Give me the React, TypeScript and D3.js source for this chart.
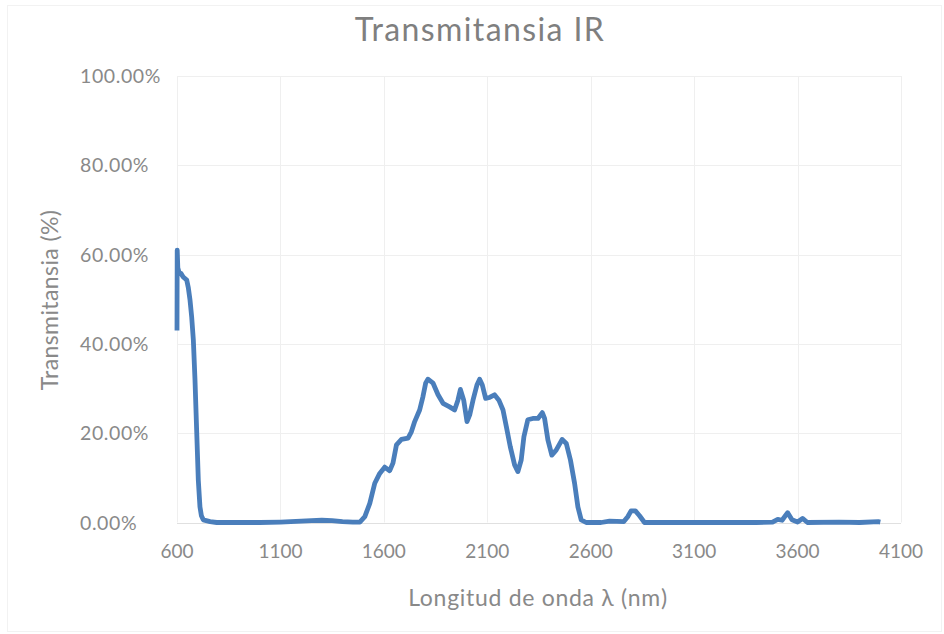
import React, { useEffect, useRef } from "react";
import * as d3 from "d3";

const wavelengths: number[] = [
  600, 601, 604, 610, 619, 630, 647, 655, 663, 671, 679, 687, 695, 703, 711, 718, 727, 760, 792, 900,
  1000, 1100, 1150, 1200, 1250, 1300, 1350, 1400, 1450, 1484, 1508, 1532, 1556, 1580, 1604, 1628, 1644,
  1661, 1685, 1717, 1733, 1749, 1773, 1789, 1802, 1813, 1838, 1862, 1886, 1918, 1942, 1958, 1970, 1986,
  2002, 2015, 2031, 2050, 2063, 2076, 2092, 2111, 2135, 2156, 2176, 2192, 2211, 2232, 2248, 2264, 2277,
  2296, 2320, 2345, 2366, 2377, 2393, 2412, 2433, 2462, 2482, 2502, 2522, 2538, 2554, 2578, 2650, 2691,
  2760, 2779, 2795, 2816, 2836, 2860, 3000, 3200, 3400, 3479, 3504, 3525, 3552, 3573, 3600, 3624, 3648,
  3800, 3900, 3990, 4000,
];

const transmittance: number[] = [
  43, 61, 57, 56, 55.8, 55, 54.3, 52.5, 49.8, 46, 40.9, 31.9, 20.7, 9.5, 3.5, 1.5, 0.6, 0.2, 0, 0,
  0, 0.1, 0.2, 0.3, 0.4, 0.5, 0.4, 0.2, 0.1, 0.1, 1.3, 4.3, 8.8, 11, 12.4, 11.6, 13.3,
  17.4, 18.6, 18.9, 20.3, 22.6, 25.2, 28.2, 31.2, 32.1, 31.2, 28.6, 26.7, 25.9, 25.2, 27.4, 29.8, 27.4,
  22.6, 24.1, 27.4, 30.8, 32.1, 30.8, 27.8, 28, 28.6, 27.4, 25.2, 21.5, 17, 12.9, 11.4, 14, 19.2,
  23, 23.3, 23.3, 24.6, 23.3, 18.5, 15.1, 16.2, 18.6, 17.7, 14, 8.8, 3.5, 0.6, 0, 0, 0.3,
  0.2, 1.3, 2.6, 2.6, 1.5, 0, 0, 0, 0, 0.1, 0.7, 0.5, 2.2, 0.6, 0.1, 0.9, 0,
  0.1, 0, 0.2, 0.1,
];

const xTicks: number[] = [600, 1100, 1600, 2100, 2600, 3100, 3600, 4100];
const yTicks: number[] = [0, 0.2, 0.4, 0.6, 0.8, 1.0];

const title = "Transmitansia IR";
const xTitle = "Longitud de onda λ (nm)";
const yTitle = "Transmitansia (%)";

export default function App() {
  const ref = useRef<SVGSVGElement | null>(null);

  useEffect(() => {
    const svg = d3.select(ref.current);
    svg.selectAll("*").remove();
    const W = 944, H = 634;
    const font = "Lato, 'Open Sans', sans-serif";
    const gray = "#898989";

    const x = d3.scaleLinear().domain([600, 4100]).range([177, 901]);
    const y = d3.scaleLinear().domain([0, 1]).range([522.5, 76]);

    svg.append("rect").attr("x", 0).attr("y", 0).attr("width", W).attr("height", H).attr("fill", "#fff");
    svg.append("rect").attr("x", 7.5).attr("y", 5.5).attr("width", W - 10).attr("height", H - 8)
      .attr("fill", "none").attr("stroke", "#f2f2f2").attr("stroke-width", 1);

    // grid
    const g = svg.append("g");
    g.selectAll("line.h").data(yTicks.filter((t) => t > 0)).enter().append("line")
      .attr("x1", x(600)).attr("x2", x(4100))
      .attr("y1", (d) => Math.round(y(d)) + 0.5).attr("y2", (d) => Math.round(y(d)) + 0.5)
      .attr("stroke", "#efefef").attr("stroke-width", 1);
    g.selectAll("line.v").data(xTicks).enter().append("line")
      .attr("x1", (d) => Math.round(x(d)) + 0.5).attr("x2", (d) => Math.round(x(d)) + 0.5)
      .attr("y1", y(1)).attr("y2", y(0))
      .attr("stroke", "#efefef").attr("stroke-width", 1);
    // x axis line
    g.append("line").attr("x1", x(600)).attr("x2", x(4100))
      .attr("y1", Math.round(y(0)) + 0.5).attr("y2", Math.round(y(0)) + 0.5)
      .attr("stroke", "#e0e0e0").attr("stroke-width", 1);

    // y tick labels (left aligned)
    svg.selectAll("text.yt").data(yTicks).enter().append("text")
      .attr("x", 80).attr("y", (d) => y(d) + 7)
      .attr("text-anchor", "start")
      .attr("font-family", font).attr("font-size", 19.5).attr("letter-spacing", 0.6).attr("fill", gray)
      .text((d) => d3.format(".2%")(d));

    // x tick labels
    svg.selectAll("text.xt").data(xTicks).enter().append("text")
      .attr("x", (d) => x(d)).attr("y", 558)
      .attr("text-anchor", "middle")
      .attr("font-family", font).attr("font-size", 19).attr("fill", gray)
      .text((d) => String(d));

    // line
    const pts = wavelengths.map((w, i) => [w, transmittance[i] / 100] as [number, number]);
    const line = d3.line<[number, number]>().x((d) => x(d[0])).y((d) => y(d[1]));
    svg.append("path").attr("d", line(pts) || "")
      .attr("fill", "none").attr("stroke", "#4a7ebb").attr("stroke-width", 4.8)
      .attr("stroke-linejoin", "round").attr("stroke-linecap", "butt");

    // titles
    svg.append("text").attr("x", 480).attr("y", 41).attr("text-anchor", "middle")
      .attr("font-family", font).attr("font-size", 32).attr("letter-spacing", 1.4)
      .attr("fill", "#7f7f7f").text(title);
    svg.append("text").attr("x", 538).attr("y", 606).attr("text-anchor", "middle")
      .attr("font-family", font).attr("font-size", 23).attr("letter-spacing", 0.7)
      .attr("fill", gray).text(xTitle);
    svg.append("text").attr("transform", "translate(58,300) rotate(-90)").attr("text-anchor", "middle")
      .attr("font-family", font).attr("font-size", 23).attr("letter-spacing", 0.4)
      .attr("fill", gray).text(yTitle);
  }, []);

  return (
    <svg ref={ref} width={944} height={634}
      style={{ position: "absolute", left: 0, top: 0, display: "block" }} />
  );
}
